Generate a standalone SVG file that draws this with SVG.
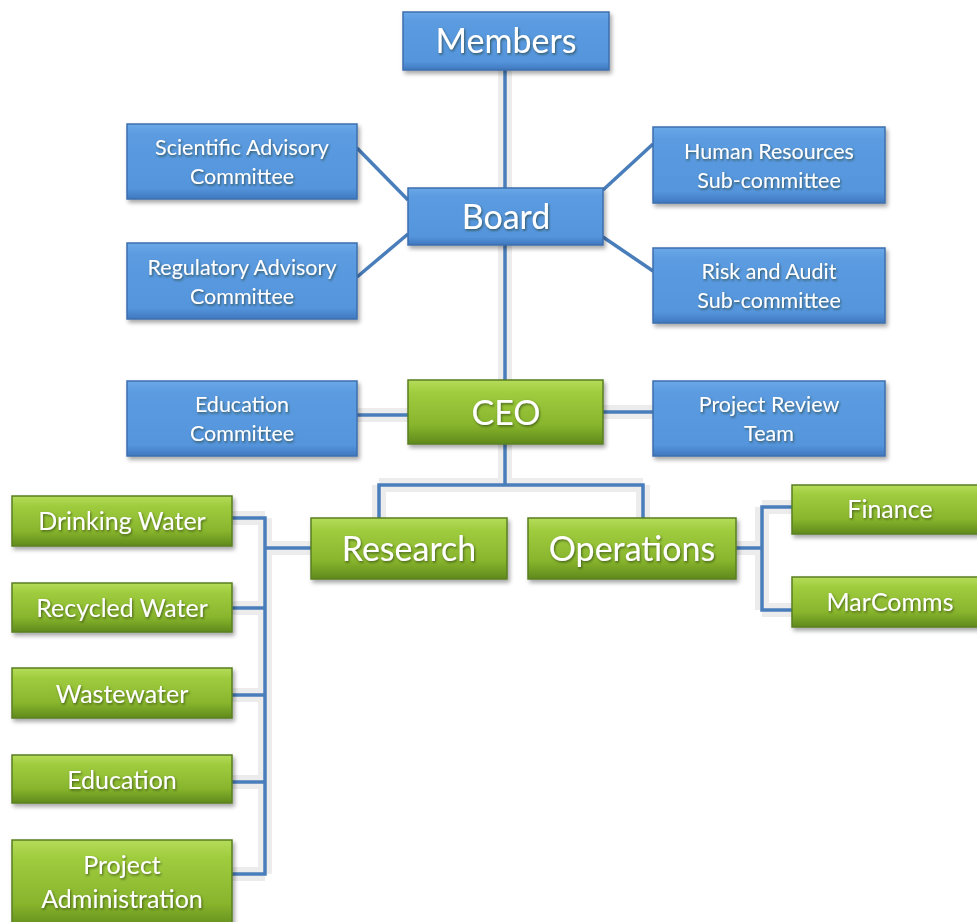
<svg xmlns="http://www.w3.org/2000/svg" width="977" height="922" viewBox="0 0 977 922">
<defs>
<linearGradient id="gb" x1="0" y1="0" x2="0" y2="1">
<stop offset="0" stop-color="#6aa8e8"/>
<stop offset="0.15" stop-color="#5b9be0"/>
<stop offset="0.85" stop-color="#5595dc"/>
<stop offset="1" stop-color="#3f78bf"/>
</linearGradient>
<linearGradient id="gg" x1="0" y1="0" x2="0" y2="1">
<stop offset="0" stop-color="#b5dc5a"/>
<stop offset="0.2" stop-color="#9fcc3e"/>
<stop offset="0.7" stop-color="#88b52d"/>
<stop offset="1" stop-color="#5f8a1c"/>
</linearGradient>
<filter id="sh" x="-10%" y="-20%" width="125%" height="150%">
<feDropShadow dx="2" dy="3" stdDeviation="2" flood-color="#000" flood-opacity="0.35"/>
</filter>
<filter id="ts" x="-10%" y="-30%" width="120%" height="160%">
<feDropShadow dx="1" dy="1.5" stdDeviation="1" flood-color="#1a2a10" flood-opacity="0.6"/>
</filter>
</defs>
<style>
.b{fill:url(#gb);stroke:#3d6fae;stroke-width:1.5;filter:url(#sh)}
.g{fill:url(#gg);stroke:#5a7f22;stroke-width:1.5;filter:url(#sh)}
text{font-family:Lato,"Open Sans","Liberation Sans",sans-serif;fill:#fff;text-anchor:middle;filter:url(#ts)}
.s{font-size:21.5px}
.m{font-size:25px}
.l{font-size:34px}
.c{fill:none;stroke:#4a7ebb;stroke-width:3.5}
.cs{fill:none;stroke:#e4e4e4;stroke-width:14;opacity:0.7}
</style>
<g id="connectors-shadow">
<path class="cs" d="M505 70V380M505 444V485M379 485H643M379 485V518M643 485V518M736 548H762M762 507V610M762 507H792M762 610H792M311 548H265M265 518V874M232 518H265M232 608H265M232 695H265M232 782H265M232 874H265M357 415H408M603 412H653"/>
</g>
<g id="connectors">
<path class="c" d="M505 70V380"/>
<path class="c" d="M357 148L408 200"/>
<path class="c" d="M357 277L408 234"/>
<path class="c" d="M603 190L653 144"/>
<path class="c" d="M603 237L653 271"/>
<path class="c" d="M357 415H408"/>
<path class="c" d="M603 412H653"/>
<path class="c" d="M505 444V485H379V518M505 485H643V518"/>
<path class="c" d="M736 548H762M792 507H762V610H792"/>
<path class="c" d="M311 548H265M232 518H265V874H232M232 608H265M232 695H265M232 782H265"/>
</g>
<g id="members"><rect class="b" x="403" y="12" width="206" height="58"/><text class="l" x="506" y="53">Members</text></g>
<g id="board"><rect class="b" x="408" y="188" width="195" height="57"/><text class="l" x="506" y="229">Board</text></g>
<g id="sci"><rect class="b" x="127" y="124" width="230" height="75"/><text class="s" x="242" y="155">Scientific Advisory</text><text class="s" x="242" y="184">Committee</text></g>
<g id="reg"><rect class="b" x="127" y="243" width="230" height="76"/><text class="s" x="242" y="275">Regulatory Advisory</text><text class="s" x="242" y="304">Committee</text></g>
<g id="hr"><rect class="b" x="653" y="127" width="232" height="76"/><text class="s" x="769" y="159">Human Resources</text><text class="s" x="769" y="188">Sub-committee</text></g>
<g id="risk"><rect class="b" x="653" y="248" width="232" height="75"/><text class="s" x="769" y="279">Risk and Audit</text><text class="s" x="769" y="308">Sub-committee</text></g>
<g id="edcom"><rect class="b" x="127" y="381" width="230" height="75"/><text class="s" x="242" y="412">Education</text><text class="s" x="242" y="441">Committee</text></g>
<g id="ceo"><rect class="g" x="408" y="380" width="195" height="64"/><text class="l" x="506" y="425">CEO</text></g>
<g id="prt"><rect class="b" x="653" y="381" width="232" height="75"/><text class="s" x="769" y="412">Project Review</text><text class="s" x="769" y="441">Team</text></g>
<g id="research"><rect class="g" x="311" y="518" width="196" height="61"/><text class="l" x="409" y="561">Research</text></g>
<g id="operations"><rect class="g" x="528" y="518" width="208" height="61"/><text class="l" x="632" y="561">Operations</text></g>
<g id="finance"><rect class="g" x="792" y="485" width="198" height="49"/><text class="m" x="890" y="518">Finance</text></g>
<g id="marcomms"><rect class="g" x="792" y="577" width="198" height="50"/><text class="m" x="890" y="611">MarComms</text></g>
<g id="drinking"><rect class="g" x="12" y="496" width="220" height="50"/><text class="m" x="122" y="530">Drinking Water</text></g>
<g id="recycled"><rect class="g" x="12" y="583" width="220" height="49"/><text class="m" x="122" y="617">Recycled Water</text></g>
<g id="wastewater"><rect class="g" x="12" y="668" width="220" height="50"/><text class="m" x="122" y="703">Wastewater</text></g>
<g id="education"><rect class="g" x="12" y="755" width="220" height="48"/><text class="m" x="122" y="789">Education</text></g>
<g id="projadmin"><rect class="g" x="12" y="840" width="220" height="90"/><text class="m" x="122" y="874">Project</text><text class="m" x="122" y="908">Administration</text></g>
</svg>
